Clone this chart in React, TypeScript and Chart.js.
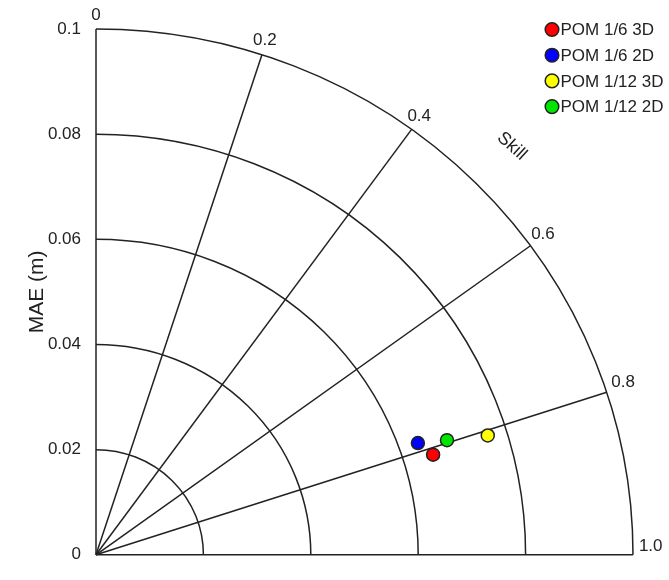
import { useEffect, useRef } from 'react';
import { Chart, registerables } from 'chart.js';

Chart.register(...registerables);

const seriesLabels = ['POM 1/6 3D', 'POM 1/6 2D', 'POM 1/12 3D', 'POM 1/12 2D'];
const seriesColors = ['#ff0000', '#0000ff', '#ffff00', '#00e600'];
const skillValues = [0.8125, 0.783, 0.808, 0.795];
const maeValues = [0.0656, 0.0636, 0.0764, 0.0689];
const maeRings = [0.02, 0.04, 0.06, 0.08, 0.1];
const skillSpokes = [0.2, 0.4, 0.6, 0.8];
const skillTicks = [0, 0.2, 0.4, 0.6, 0.8, 1.0];
const skillTickLabels = ['0', '0.2', '0.4', '0.6', '0.8', '1.0'];
const maxMae = 0.1;
const skillTitle = 'Skill';
const skillTitlePos = { skill: 0.499, mae: 0.1097 };

const FONT = '"Liberation Sans", Arial, sans-serif';
const INK = '#222';

const toXY = (skill: number, mae: number) => {
  const a = (skill * Math.PI) / 2;
  return { x: mae * Math.sin(a), y: mae * Math.cos(a) };
};

const diagramPlugin = {
  id: 'diagram',
  beforeDatasetsDraw(chart: any) {
    const { ctx } = chart;
    const xs = chart.scales.x;
    const ys = chart.scales.y;
    const P = (skill: number, mae: number) => {
      const p = toXY(skill, mae);
      return { x: xs.getPixelForValue(p.x), y: ys.getPixelForValue(p.y) };
    };
    const cx = xs.getPixelForValue(0);
    const cy = ys.getPixelForValue(0);
    ctx.save();
    ctx.strokeStyle = INK;
    ctx.lineWidth = 1.5;
    maeRings.forEach((r) => {
      const rx = xs.getPixelForValue(r) - cx;
      const ry = cy - ys.getPixelForValue(r);
      ctx.beginPath();
      ctx.ellipse(cx, cy, rx, ry, 0, -Math.PI / 2, 0);
      ctx.stroke();
    });
    [0, ...skillSpokes, 1].forEach((s) => {
      const e = P(s, maxMae);
      ctx.beginPath();
      ctx.moveTo(cx, cy);
      ctx.lineTo(e.x, e.y);
      ctx.stroke();
    });
    ctx.fillStyle = INK;
    ctx.font = `17px ${FONT}`;
    ctx.textBaseline = 'bottom';
    ctx.textAlign = 'left';
    const rOut = maxMae * 1.011;
    skillTicks.forEach((s, i) => {
      const a = (s * Math.PI) / 2;
      const p = P(s, rOut);
      const txt = skillTickLabels[i];
      const w = ctx.measureText(txt).width;
      const shift = -(w / 2) * Math.cos(a) * Math.cos(a);
      const dy = s === 0 ? 1 : 0;
      ctx.fillText(txt, p.x + shift, p.y + dy);
    });
    const tp = P(skillTitlePos.skill, skillTitlePos.mae);
    ctx.save();
    ctx.translate(tp.x, tp.y);
    ctx.rotate((42 * Math.PI) / 180);
    ctx.font = `18px ${FONT}`;
    ctx.textAlign = 'center';
    ctx.textBaseline = 'middle';
    ctx.fillText(skillTitle, 0, 0);
    ctx.restore();
    ctx.restore();
  },
  afterDraw(chart: any) {
    const { ctx } = chart;
    ctx.save();
    ctx.font = `17px ${FONT}`;
    ctx.textBaseline = 'middle';
    ctx.textAlign = 'left';
    seriesLabels.forEach((lab, i) => {
      const y = 29.5 + i * 25.7;
      ctx.beginPath();
      ctx.arc(552, y, 6.8, 0, Math.PI * 2);
      ctx.fillStyle = seriesColors[i];
      ctx.fill();
      ctx.strokeStyle = INK;
      ctx.lineWidth = 1.5;
      ctx.stroke();
      ctx.fillStyle = INK;
      ctx.fillText(lab, 560.5, y + 1);
    });
    ctx.restore();
  },
};

export default function App() {
  const ref = useRef<HTMLCanvasElement | null>(null);
  useEffect(() => {
    if (!ref.current) return;
    const datasets = seriesLabels.map((label, i) => ({
      label,
      data: [toXY(skillValues[i], maeValues[i])],
      backgroundColor: seriesColors[i],
      borderColor: INK,
      borderWidth: 1.5,
      pointRadius: 6.5,
      pointHoverRadius: 6.5,
    }));
    const chart = new Chart(ref.current, {
      type: 'scatter',
      data: { datasets },
      plugins: [diagramPlugin],
      options: {
        animation: false,
        responsive: false,
        devicePixelRatio: 1,
        layout: { padding: { top: 29, right: 36, bottom: 14, left: 0 } },
        plugins: { legend: { display: false }, tooltip: { enabled: false } },
        scales: {
          x: { type: 'linear', min: 0, max: maxMae, display: false },
          y: {
            type: 'linear',
            min: 0,
            max: maxMae,
            afterFit: (s: any) => {
              s.width = 96;
            },
            grid: { display: false, drawTicks: false },
            border: { display: false },
            ticks: {
              stepSize: 0.02,
              padding: 15,
              color: INK,
              font: { family: FONT, size: 17 },
              callback: (v: any) => String(parseFloat(Number(v).toFixed(2))),
            },
            title: {
              display: true,
              text: 'MAE (m)',
              color: INK,
              font: { family: FONT, size: 21 },
              padding: { top: 25, bottom: 0 },
            },
          },
        },
      },
    });
    return () => chart.destroy();
  }, []);
  return (
    <div style={{ position: 'fixed', left: 0, top: 0, width: 669, height: 580, background: '#fff' }}>
      <canvas ref={ref} width={669} height={580} style={{ width: 669, height: 580 }} />
    </div>
  );
}
